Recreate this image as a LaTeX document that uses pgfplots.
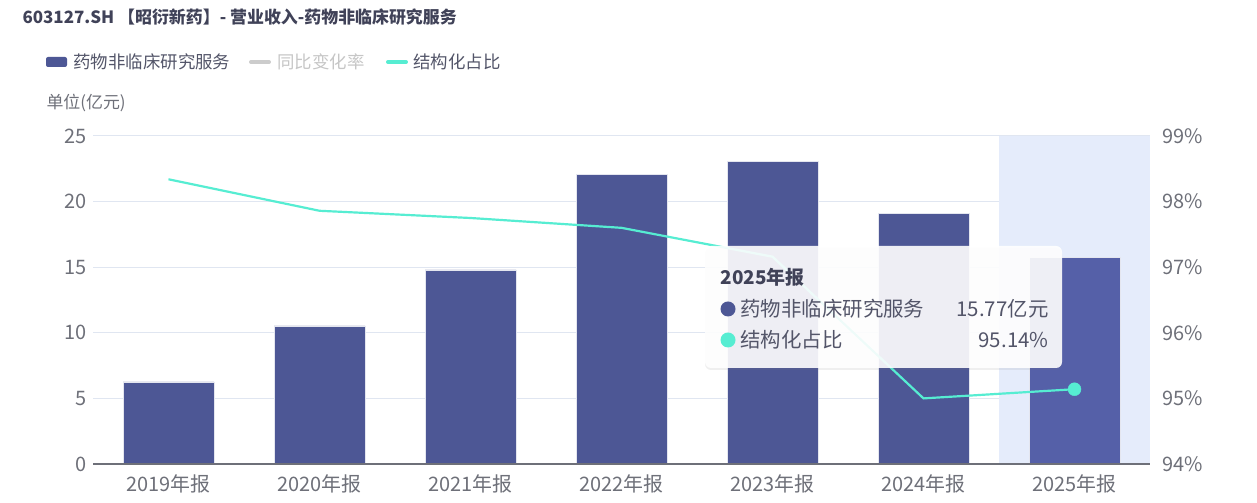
\documentclass[border=0pt]{standalone}
\usepackage{pgfplots}
\pgfplotsset{compat=1.18}
\usepackage{fontspec}
\setmainfont{Noto Sans CJK SC}
\usetikzlibrary{shadows}
\definecolor{barc}{HTML}{4D5795}
\definecolor{barh}{HTML}{5560A8}
\definecolor{linec}{HTML}{56EDD2}
\definecolor{bandc}{HTML}{E5ECFB}
\definecolor{gridc}{HTML}{E0E6F1}
\definecolor{txt}{HTML}{6E7079}
\definecolor{ttl}{HTML}{404258}
\pgfplotstableread{
x v
0 6.25
1 10.52
2 14.79
3 22.10
4 23.09
5 19.13
}\bars
\pgfplotstableread{
x v
6 15.77
}\barlast
\pgfplotstableread{
x v
0 98.34
1 97.86
2 97.75
3 97.60
4 97.16
5 95.00
6 95.14
}\ratio
\begin{document}
\begin{tikzpicture}[x=1bp,y=1bp]
\useasboundingbox (0,0) rectangle (1257,503);
\fill[white] (0,0) rectangle (1257,503);
\begin{axis}[
  at={(93bp,39bp)}, anchor=south west,
  scale only axis, width=1057bp, height=328bp,
  xmin=-0.5, xmax=6.5, ymin=0, ymax=25,
  xtick={0,...,6},
  xticklabels={2019年报,2020年报,2021年报,2022年报,2023年报,2024年报,2025年报},
  ytick={0,5,10,15,20,25},
  axis line style={draw=none},
  axis x line*=bottom, axis y line*=left,
  major tick length=0pt,
  tick label style={font=\fontsize{20}{22}\selectfont, text=txt},
  /pgf/number format/assume math mode=true,
  ymajorgrids, grid style={gridc, line width=1pt},
  yticklabel style={xshift=-3bp},
  xticklabel style={yshift=-7bp},
  clip=false,
]
\fill[bandc] (axis cs:5.5,0) rectangle (axis cs:6.5,25);
\draw[gridc, line width=1pt] (axis cs:5.5,25) -- (axis cs:6.5,25);
\addplot[ybar, bar width=91bp, fill=barc, draw=white!85!barc, line width=0.6pt] table[x=x,y=v]{\bars};
\addplot[ybar, bar width=91bp, fill=barh, draw=white!85!barc, line width=0.6pt] table[x=x,y=v]{\barlast};
\draw[draw=txt, line width=1.2pt] (axis cs:-0.5,0) -- (axis cs:6.5,0);
\end{axis}
\begin{axis}[
  at={(93bp,39bp)}, anchor=south west,
  scale only axis, width=1057bp, height=328bp,
  xmin=-0.5, xmax=6.5, ymin=94, ymax=99,
  axis y line*=right, axis x line=none,
  axis line style={draw=none},
  ytick={94,95,96,97,98,99},
  yticklabel={\pgfmathprintnumber{\tick}\%},
  major tick length=0pt,
  tick label style={font=\fontsize{20}{22}\selectfont, text=txt},
  /pgf/number format/assume math mode=true,
  yticklabel style={xshift=9bp},
  clip=false,
]
\addplot[linec, line width=2.2pt, mark=none] table[x=x,y=v]{\ratio};
\addplot[linec, only marks, mark=*, mark size=6.5bp, mark options={fill=linec, draw=linec}] table[x=x,y=v]{
x v
6 95.14
};
\end{axis}
% title
\node[anchor=west, text=ttl, font=\fontsize{17}{20}\selectfont\bfseries] at (19,486) {603127.SH 【昭衍新药】- 营业收入-药物非临床研究服务};
% legend
\fill[barc, rounded corners=2pt] (46,436) rectangle (67,446);
\node[anchor=west, text=ttl!90, font=\fontsize{17.5}{20}\selectfont] at (70,441) {药物非临床研究服务};
\draw[gray!40, line width=4pt, line cap=round] (251,441) -- (269,441);
\node[anchor=west, text=gray!45, font=\fontsize{17.5}{20}\selectfont] at (274,441) {同比变化率};
\draw[linec, line width=4pt, line cap=round] (388,441) -- (406,441);
\node[anchor=west, text=ttl!90, font=\fontsize{17.5}{20}\selectfont] at (410,441) {结构化占比};
% unit
\node[anchor=west, text=txt, font=\fontsize{17}{20}\selectfont] at (43,400) {单位(亿元)};
% tooltip
\fill[white, fill opacity=0.9, rounded corners=6pt, drop shadow={opacity=0.12, shadow xshift=0pt, shadow yshift=-2pt}] (705,135) rectangle (1062,257);
\node[anchor=west, text=ttl, font=\fontsize{19}{20}\selectfont\bfseries] at (717,226) {2025年报};
\fill[barc] (728,194) circle (7.5);
\node[anchor=west, text=ttl!90, font=\fontsize{20.5}{22}\selectfont] at (737,194) {药物非临床研究服务};
\node[anchor=east, text=ttl!90, font=\fontsize{20.5}{22}\selectfont] at (1052,194) {15.77亿元};
\fill[linec] (728,163) circle (7.5);
\node[anchor=west, text=ttl!90, font=\fontsize{20.5}{22}\selectfont] at (737,163) {结构化占比};
\node[anchor=east, text=ttl!90, font=\fontsize{20.5}{22}\selectfont] at (1052,163) {95.14\%};
\end{tikzpicture}
\end{document}
